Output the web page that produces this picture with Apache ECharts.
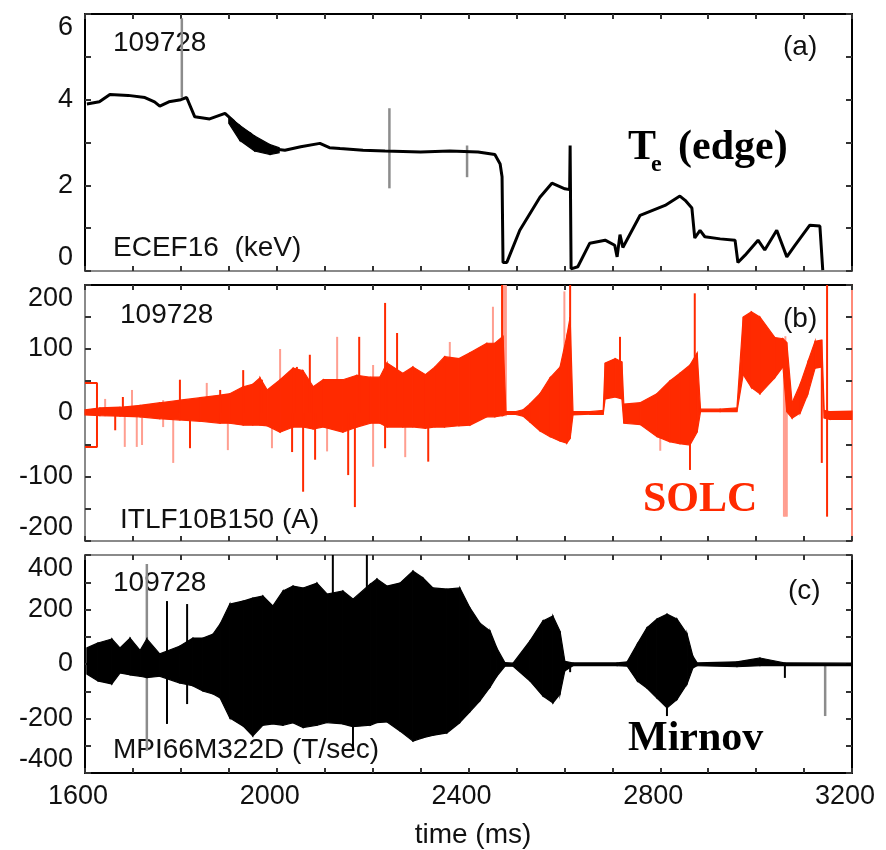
<!DOCTYPE html>
<html>
<head>
<meta charset="utf-8">
<title>109728</title>
<script src="https://cdn.jsdelivr.net/npm/echarts@6/dist/echarts.min.js"></script>
<style>
  html, body { margin: 0; padding: 0; background: #fff; }
  #chart { width: 886px; height: 850px; }
</style>
</head>
<body>
<div id="chart"></div>
<script>
// ---- shared x axis ----
var timeLabels = [1600, 2000, 2400, 2800, 3200];

// ---- (a) Te edge, ECEF16 (keV) ----
var teT = [1604,1630,1652,1690,1725,1745,1756,1775,1800,1812,1829,1860,1892,1910,1923,1945,1960,1975,1995,2017,2050,2090,2110,2132,2180,2226,2300,2361,2420,2455,2466,2470,2472,2480,2507,2549,2574,2601,2611,2612,2614,2628,2653,2685,2705,2710,2716,2722,2758,2810,2841,2852,2866,2872,2883,2893,2925,2956,2962,2977,3004,3018,3043,3064,3081,3112,3133,3139];
var teV = [3.9,3.95,4.12,4.1,4.05,3.95,3.85,3.95,4.0,4.05,3.6,3.55,3.68,3.5,3.3,3.2,3.0,2.88,2.85,2.82,2.9,2.98,2.88,2.86,2.82,2.8,2.78,2.8,2.78,2.72,2.5,2.2,0.2,0.2,0.95,1.72,2.05,1.92,1.9,2.93,0.05,0.1,0.65,0.72,0.6,0.33,0.85,0.55,1.3,1.53,1.75,1.65,1.47,0.77,0.95,0.8,0.75,0.72,0.2,0.37,0.72,0.49,0.95,0.33,0.6,1.07,1.05,0.02];
// noisy thick stretch of the trace
var teBandT  = [1900,1923,1954,1986,2005];
var teBandHi = [3.6,3.4,3.15,2.95,2.88];
var teBandLo = [3.45,3.05,2.8,2.72,2.76];
// thin grey spikes
var teSpikeT  = [1802,2235,2397];
var teSpikeHi = [5.9,3.8,2.93];
var teSpikeLo = [4.05,1.93,2.19];
var teLabels = [0, 2, 4, 6];

// ---- (b) SOLC, ITLF10B150 (A) : envelope of the fast signal ----
var solT  = [1600,1631,1673,1715,1756,1798,1840,1882,1902,1930,1950,1965,1980,2007,2034,2055,2076,2097,2138,2167,2195,2215,2230,2263,2284,2310,2330,2350,2380,2403,2438,2455,2472,2478,2497,2514,2528,2549,2570,2591,2605,2612,2618,2653,2681,2685,2706,2720,2724,2758,2793,2820,2841,2862,2877,2884,2925,2960,2973,2990,3008,3039,3056,3064,3075,3092,3108,3123,3137,3142,3154,3200];
var solHi = [5,8,9,12,16,20,24,28,30,41,45,55,36,52,70,66,41,52,52,59,56,56,78,62,72,60,72,88,85,94,109,109,120,2,2,5,14,30,55,72,120,150,2,2,4,78,85,80,14,16,30,50,62,75,94,6,6,8,150,158,150,118,116,110,16,45,80,112,114,4,2,3];
var solLo = [-3,-4,-5,-6,-9,-11,-13,-16,-16,-19,-19,-19,-20,-30,-22,-22,-25,-22,-30,-22,-16,-16,-22,-22,-22,-24,-22,-22,-20,-19,-6,-6,-4,-2,-2,-5,-14,-28,-37,-44,-47,-40,-3,-2,-2,22,25,22,-16,-18,-37,-45,-48,-50,-30,2,2,2,60,40,30,55,72,2,-8,0,30,70,72,-8,-10,-10];
var solSpikeT  = [1663,1679,1798,1819,1882,1930,1969,2032,2042,2055,2069,2080,2149,2163,2172,2226,2251,2316,2470,2612,2716,2862,2872,3137,3148];
var solSpikeHi = [0,25,52,0,36,67,52,0,72,0,91,0,0,0,119,172,125,0,200,200,119,0,187,72,200];
var solSpikeLo = [-27,0,0,-55,0,0,0,-61,0,-123,0,-73,-97,-147,0,-55,0,-76,-5,-31,60,-89,50,-78,-162];
var solFaintT  = [1642,1683,1698,1708,1719,1763,1784,1854,1898,1990,2007,2105,2126,2201,2268,2361,2451,2474,2478,2600,2800,3058,3061,3064];
var solFaintHi = [22,0,36,0,0,20,0,47,0,0,100,0,119,75,0,111,166,200,200,190,0,60,120,60];
var solFaintLo = [-5,-53,0,-53,-50,-22,-78,0,-58,-55,0,-60,0,-84,-69,0,0,-5,-5,-40,-59,-162,-162,-162];
var solStartT = [1600,1625,1625,1600];
var solStartV = [47,47,-53,-53];
var solLabels = [-200, -100, 0, 100, 200];

// ---- (c) Mirnov, MPI66M322D (T/sec) : envelope ----
var mirT  = [1604,1627,1656,1673,1694,1715,1729,1756,1798,1825,1846,1867,1882,1902,1930,1950,1971,1992,2013,2034,2055,2084,2105,2138,2159,2195,2209,2230,2257,2284,2305,2326,2355,2382,2403,2424,2445,2459,2476,2493,2528,2555,2576,2591,2601,2618,2710,2731,2752,2772,2793,2814,2835,2856,2868,2877,2960,3008,3060,3200];
var mirHi = [59,77,92,59,95,50,92,37,66,95,95,110,147,220,231,242,250,213,268,286,279,297,257,268,238,293,312,286,297,341,316,279,275,279,206,150,121,59,5,3,84,158,176,120,10,4,4,8,73,132,165,183,165,110,29,4,8,22,4,3];
var mirLo = [-37,-62,-73,-33,-40,-45,-50,-45,-70,-80,-99,-110,-125,-198,-228,-264,-225,-220,-225,-216,-233,-225,-215,-220,-230,-225,-215,-213,-246,-283,-271,-262,-253,-215,-175,-135,-85,-45,-8,-8,-62,-117,-143,-110,-25,-6,-6,-8,-62,-88,-125,-161,-130,-73,-15,-6,-10,-6,-6,-6];
var mirSpikeT  = [1771,1813,2117,2159,2188,2612,2814,3060];
var mirSpikeHi = [231,220,400,0,400,0,0,0];
var mirSpikeLo = [-220,-147,0,-319,0,-30,-191,-51];
var mirFaintT  = [1729,3144];
var mirFaintHi = [367,0];
var mirFaintLo = [-319,-191];
var mirLabels = [-400, -200, 0, 200, 400];

var SANS = '"Liberation Sans", Arial, sans-serif';
var SERIF = '"Liberation Serif", "Times New Roman", serif';
var RED = '#ff2a00';

var chart = echarts.init(document.getElementById('chart'));

function timeAxis(g, pos, lineColor, labels) {
  return {
    type: 'value', gridIndex: g, position: pos,
    min: 1600, max: 3200, interval: 100,
    axisLine: { show: true, onZero: false, lineStyle: { color: lineColor, width: 2 } },
    axisTick: { show: true, inside: true, length: 5, lineStyle: { color: '#333', width: 2 } },
    axisLabel: labels ? {
      show: true, customValues: labels, margin: 10, padding: [0, 14, 0, 0],
      color: '#111', fontFamily: SANS, fontSize: 27,
      formatter: function (v) { return String(v); }
    } : { show: false },
    splitLine: { show: false }
  };
}

function valAxis(g, pos, min, max, step, lineColor, labels) {
  return {
    type: 'value', gridIndex: g, position: pos,
    min: min, max: max, interval: step,
    axisLine: { show: true, onZero: false, lineStyle: { color: lineColor, width: 2 } },
    axisTick: { show: true, inside: true, length: 6, lineStyle: { color: '#333', width: 2 } },
    axisLabel: labels ? {
      show: true, customValues: labels, margin: 12,
      verticalAlignMinLabel: 'bottom', verticalAlignMaxLabel: 'top',
      color: '#111', fontFamily: SANS, fontSize: 27,
      formatter: function (v) { return String(v); }
    } : { show: false },
    splitLine: { show: false }
  };
}

// filled envelope between hi and lo, one quad per sample step
function bandSeries(idx, t, hi, lo, color) {
  var data = [];
  for (var i = 0; i < t.length - 1; i++) {
    data.push([t[i], t[i + 1], hi[i], lo[i], hi[i + 1], lo[i + 1]]);
  }
  return {
    type: 'custom', xAxisIndex: idx, yAxisIndex: idx, silent: true, animation: false,
    encode: { x: [0, 1], y: [2, 3, 4, 5] },
    renderItem: function (params, api) {
      var pts = [
        api.coord([api.value(0), api.value(2)]),
        api.coord([api.value(1), api.value(4)]),
        api.coord([api.value(1), api.value(5)]),
        api.coord([api.value(0), api.value(3)])
      ];
      return { type: 'polygon', shape: { points: pts }, style: { fill: color, stroke: color, lineWidth: 1.2 } };
    },
    data: data
  };
}

// single vertical strokes from lo to hi
function spikeSeries(idx, t, hi, lo, color, w) {
  return {
    type: 'custom', xAxisIndex: idx, yAxisIndex: idx, silent: true, animation: false,
    encode: { x: 0, y: [1, 2] },
    renderItem: function (params, api) {
      var a = api.coord([api.value(0), api.value(1)]);
      var b = api.coord([api.value(0), api.value(2)]);
      return { type: 'line', shape: { x1: a[0], y1: a[1], x2: b[0], y2: b[1] }, style: { stroke: color, lineWidth: w } };
    },
    data: t.map(function (v, i) { return [v, hi[i], lo[i]]; })
  };
}

function txt(x, y, s, font, color) {
  return {
    type: 'text', x: x, y: y, silent: true,
    style: { text: s, font: font, fill: color || '#111', align: 'left', verticalAlign: 'middle' }
  };
}

chart.setOption({
  animation: false,
  backgroundColor: '#fff',
  grid: [
    { left: 85, width: 767, top: 14, height: 257 },
    { left: 85, width: 767, top: 285, height: 256 },
    { left: 85, width: 767, top: 555, height: 218 }
  ],
  xAxis: [
    timeAxis(0, 'bottom', '#8a8a8a'),
    timeAxis(1, 'bottom', '#8a8a8a'),
    timeAxis(2, 'bottom', '#000', timeLabels),
    timeAxis(0, 'top', '#000'),
    timeAxis(1, 'top', '#000'),
    timeAxis(2, 'top', '#8a8a8a')
  ],
  yAxis: [
    valAxis(0, 'left', 0, 6, 1, '#000', teLabels),
    valAxis(1, 'left', -200, 200, 50, '#8a8a8a', solLabels),
    valAxis(2, 'left', -400, 400, 100, '#000', mirLabels),
    valAxis(0, 'right', 0, 6, 1, '#000'),
    valAxis(1, 'right', -200, 200, 50, '#ff8a78'),
    valAxis(2, 'right', -400, 400, 100, '#000')
  ],
  series: [
    {
      type: 'line', xAxisIndex: 0, yAxisIndex: 0, showSymbol: false, silent: true,
      lineStyle: { color: '#000', width: 3 },
      data: teT.map(function (t, i) { return [t, teV[i]]; })
    },
    bandSeries(0, teBandT, teBandHi, teBandLo, '#000'),
    spikeSeries(0, teSpikeT, teSpikeHi, teSpikeLo, '#8c8c8c', 2.5),

    spikeSeries(1, solFaintT, solFaintHi, solFaintLo, '#ff9e90', 2),
    bandSeries(1, solT, solHi, solLo, RED),
    spikeSeries(1, solSpikeT, solSpikeHi, solSpikeLo, RED, 2),
    {
      type: 'line', xAxisIndex: 1, yAxisIndex: 1, showSymbol: false, silent: true,
      lineStyle: { color: RED, width: 2 },
      data: solStartT.map(function (t, i) { return [t, solStartV[i]]; })
    },

    spikeSeries(2, mirFaintT, mirFaintHi, mirFaintLo, '#8c8c8c', 2.5),
    bandSeries(2, mirT, mirHi, mirLo, '#000'),
    spikeSeries(2, mirSpikeT, mirSpikeHi, mirSpikeLo, '#000', 2)
  ],
  graphic: [
    txt(113, 43, '109728', '28px ' + SANS),
    txt(120, 315, '109728', '28px ' + SANS),
    txt(113, 583, '109728', '28px ' + SANS),
    txt(783, 47, '(a)', '28px ' + SANS),
    txt(783, 319, '(b)', '28px ' + SANS),
    txt(788, 591, '(c)', '28px ' + SANS),
    txt(113, 248, 'ECEF16  (keV)', '28px ' + SANS),
    txt(120, 520, 'ITLF10B150 (A)', '28px ' + SANS),
    txt(113, 750, 'MPI66M322D (T/sec)', '28px ' + SANS),
    txt(628, 148, 'T', 'bold 42px ' + SERIF, '#000'),
    txt(651, 165, 'e', 'bold 24px ' + SERIF, '#000'),
    txt(678, 148, '(edge)', 'bold 42px ' + SERIF, '#000'),
    txt(643, 500, 'SOLC', 'bold 42px ' + SERIF, RED),
    txt(628, 739, 'Mirnov', 'bold 42px ' + SERIF, '#000'),
    {
      type: 'text', x: 473, y: 835, silent: true,
      style: { text: 'time (ms)', font: '28px ' + SANS, fill: '#111', align: 'center', verticalAlign: 'middle' }
    }
  ]
});
</script>
</body>
</html>
